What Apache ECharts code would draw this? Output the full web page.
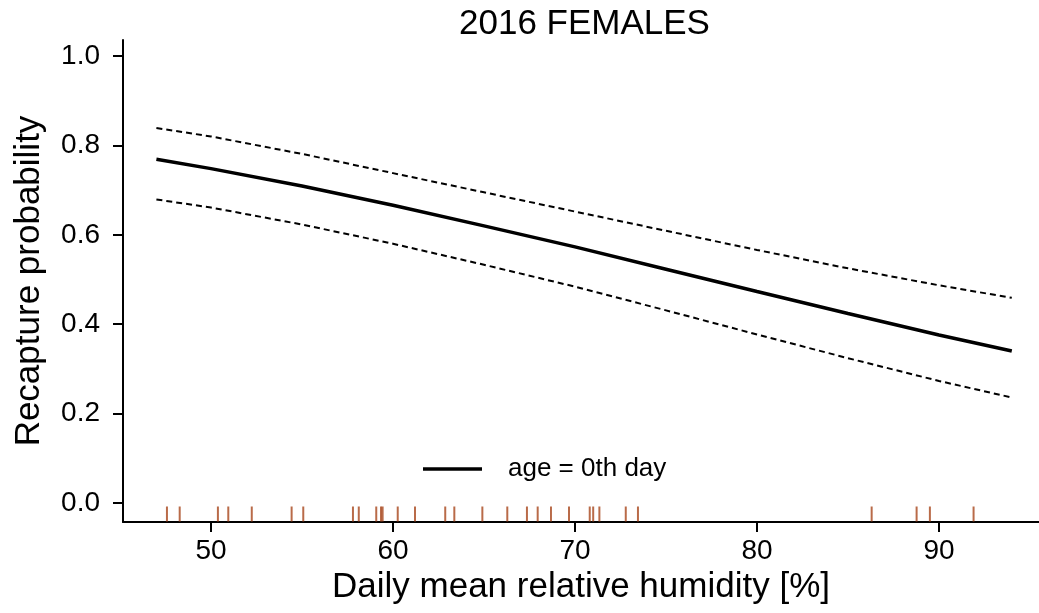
<!DOCTYPE html>
<html>
<head>
<meta charset="utf-8">
<script src="https://cdn.jsdelivr.net/npm/echarts@6/dist/echarts.min.js"></script>
<style>html,body{margin:0;padding:0;background:#fff}#c{width:1039px;height:613px}</style>
</head>
<body>
<div id="c"></div>
<script>
// Humidity values (x) where the fitted curves are read
const humidity = [47, 50, 55, 60, 65, 70, 75, 80, 85, 90, 94];
// Fitted recapture probability (age = 0th day)
const fitMain  = [0.769, 0.748, 0.709, 0.666, 0.620, 0.573, 0.523, 0.473, 0.424, 0.376, 0.340];
// Upper and lower confidence bounds
const fitUpper = [0.839, 0.820, 0.781, 0.738, 0.695, 0.652, 0.609, 0.566, 0.525, 0.487, 0.459];
const fitLower = [0.679, 0.661, 0.623, 0.580, 0.533, 0.484, 0.431, 0.377, 0.324, 0.273, 0.236];
// Observed humidity values shown as a rug
const rugValues = [47.58, 48.28, 50.38, 50.95, 52.24, 54.43, 55.07, 57.80, 58.12, 59.08, 59.34, 59.43,
  60.26, 61.21, 62.87, 63.37, 64.91, 66.28, 67.36, 67.95, 68.68, 69.67, 70.81, 71.00, 71.34,
  72.79, 73.46, 86.30, 88.77, 89.50, 91.90];
const xTicks = [50, 60, 70, 80, 90];
const yTicks = [0, 0.2, 0.4, 0.6, 0.8, 1.0];
const rugLevel = -0.0246;

const zip = (xs, ys) => xs.map((x, i) => [x, ys[i]]);
const FONT = "'Liberation Sans', Arial, sans-serif";

const chart = echarts.init(document.getElementById('c'), null, {renderer: 'canvas'});
chart.setOption({
  animation: false,
  backgroundColor: '#fff',
  title: {
    text: '2016 FEMALES', left: 454, top: 2,
    textStyle: {fontFamily: FONT, fontSize: 35, fontWeight: 'normal', color: '#000'}
  },
  legend: {
    data: ['age = 0th day'], left: 418, top: 451,
    icon: 'rect', itemWidth: 59, itemHeight: 3.5,
    textStyle: {fontFamily: FONT, fontSize: 26, color: '#000', padding: [0, 0, 0, 21]}
  },
  grid: {left: 123, right: 0, top: 40, bottom: 91, containLabel: false},
  xAxis: {
    type: 'value', min: 45.165, max: 95.495,
    name: 'Daily mean relative humidity [%]', nameLocation: 'middle', nameGap: 46,
    nameTextStyle: {fontFamily: FONT, fontSize: 35, color: '#000'},
    axisLine: {show: true, onZero: false, lineStyle: {color: '#000', width: 2}},
    axisTick: {show: true, length: 10, customValues: xTicks, lineStyle: {color: '#000', width: 2}},
    axisLabel: {customValues: xTicks, margin: 15, fontFamily: FONT, fontSize: 28, color: '#000'},
    splitLine: {show: false}
  },
  yAxis: {
    type: 'value', min: -0.0425, max: 1.0358,
    name: 'Recapture probability', nameLocation: 'middle', nameGap: 76,
    nameTextStyle: {fontFamily: FONT, fontSize: 35, color: '#000'},
    axisLine: {show: true, onZero: false, lineStyle: {color: '#000', width: 2}},
    axisTick: {show: true, length: 10, customValues: yTicks, lineStyle: {color: '#000', width: 2}},
    axisLabel: {customValues: yTicks, margin: 23, fontFamily: FONT, fontSize: 28, color: '#000',
      formatter: v => v.toFixed(1)},
    splitLine: {show: false}
  },
  series: [
    {name: 'age = 0th day', type: 'line', data: zip(humidity, fitMain), smooth: false,
     showSymbol: false, lineStyle: {color: '#000', width: 3.5}, itemStyle: {color: '#000'}},
    {name: 'upper', type: 'line', data: zip(humidity, fitUpper), smooth: false,
     showSymbol: false, lineStyle: {color: '#000', width: 2, type: [6, 4]}},
    {name: 'lower', type: 'line', data: zip(humidity, fitLower), smooth: false,
     showSymbol: false, lineStyle: {color: '#000', width: 2, type: [6, 4]}},
    {name: 'rug', type: 'scatter', data: rugValues.map(v => [v, rugLevel]),
     symbol: 'rect', symbolSize: [2, 15], itemStyle: {color: '#A8461C'}, silent: true}
  ]
});
</script>
</body>
</html>
